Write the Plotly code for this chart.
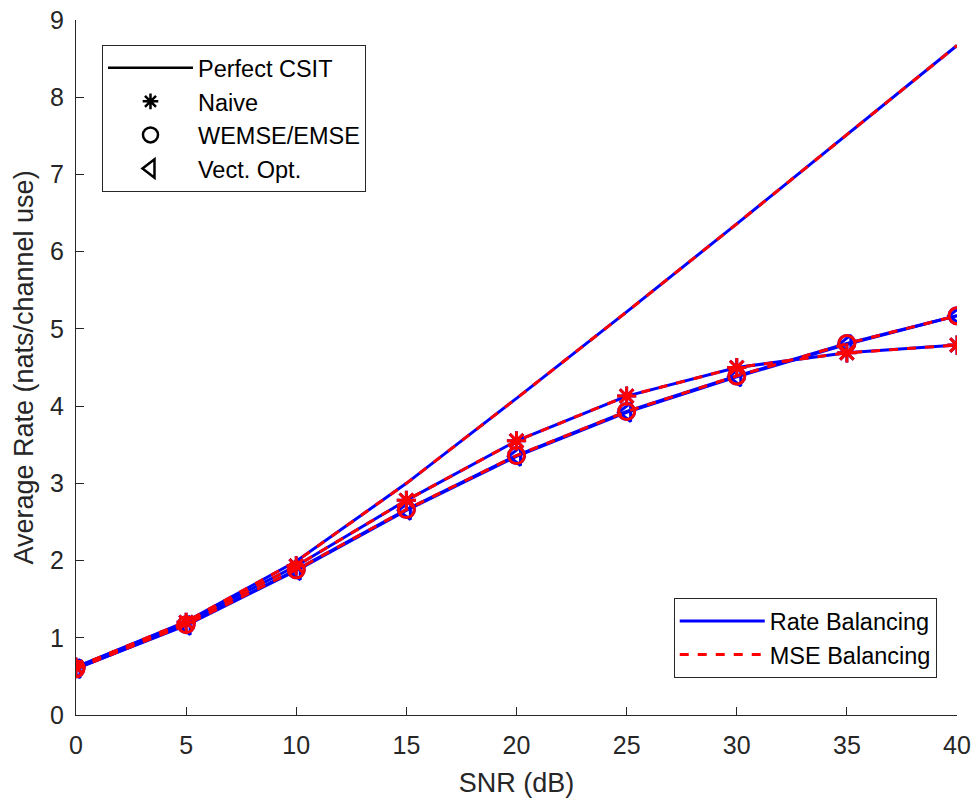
import plotly.graph_objects as go

snr = [0, 5, 10, 15, 20, 25, 30, 35, 40]
perfect_rate = [0.62, 1.21, 1.99, 3.00, 4.10, 5.22, 6.36, 7.51, 8.67]
perfect_mse = [0.62, 1.21, 1.99, 3.00, 4.10, 5.22, 6.36, 7.51, 8.67]
naive_rate = [0.62, 1.20, 1.93, 2.78, 3.55, 4.13, 4.50, 4.69, 4.79]
naive_mse = [0.62, 1.20, 1.93, 2.78, 3.55, 4.13, 4.50, 4.69, 4.79]
wemse_rate = [0.60, 1.17, 1.88, 2.66, 3.36, 3.93, 4.39, 4.81, 5.17]
wemse_mse = [0.60, 1.17, 1.88, 2.66, 3.36, 3.93, 4.39, 4.81, 5.17]
vect_rate = [0.60, 1.16, 1.87, 2.65, 3.35, 3.92, 4.38, 4.80, 5.17]

xticks = [0, 5, 10, 15, 20, 25, 30, 35, 40]
yticks = [0, 1, 2, 3, 4, 5, 6, 7, 8, 9]

BLUE = "#0000ff"
RED = "#ff0000"
AX = "#262626"
FONT = "Liberation Sans, Arial, sans-serif"

fig = go.Figure()

def add(y, color, dash, symbol=None, msize=16):
    mode = "lines+markers" if symbol else "lines"
    kw = {}
    if symbol:
        kw["marker"] = dict(symbol=symbol, size=msize, color=color,
                            line=dict(color=color, width=3))
    fig.add_trace(go.Scatter(x=snr, y=y, mode=mode,
                             line=dict(color=color, width=3, dash=dash),
                             showlegend=False, hoverinfo="skip", **kw))

# Rate balancing (blue solid)
add(perfect_rate, BLUE, "solid")
add(naive_rate, BLUE, "solid", "asterisk-open")
add(vect_rate, BLUE, "solid", "triangle-left-open", 16)
add(wemse_rate, BLUE, "solid", "circle-open")
# MSE balancing (red dashed)
add(perfect_mse, RED, "dash")
add(naive_mse, RED, "dash", "asterisk-open")
add(wemse_mse, RED, "dash", "circle-open")

# Legend 1 entries (black)
fig.add_trace(go.Scatter(x=[None], y=[None], mode="lines", name="Perfect CSIT",
                         line=dict(color="black", width=2.5), legend="legend"))
fig.add_trace(go.Scatter(x=[None], y=[None], mode="markers", name="Naive",
                         marker=dict(symbol="asterisk-open", size=13, color="black",
                                     line=dict(color="black", width=2.5)), legend="legend"))
fig.add_trace(go.Scatter(x=[None], y=[None], mode="markers", name="WEMSE/EMSE",
                         marker=dict(symbol="circle-open", size=15, color="black",
                                     line=dict(color="black", width=2.5)), legend="legend"))
fig.add_trace(go.Scatter(x=[None], y=[None], mode="markers", name="Vect. Opt.",
                         marker=dict(symbol="triangle-left-open", size=16, color="black",
                                     line=dict(color="black", width=2.5)), legend="legend"))
# Legend 2 entries
fig.add_trace(go.Scatter(x=[None], y=[None], mode="lines", name="Rate Balancing",
                         line=dict(color=BLUE, width=3), legend="legend2"))
fig.add_trace(go.Scatter(x=[None], y=[None], mode="lines", name="MSE Balancing",
                         line=dict(color=RED, width=3, dash="dash"), legend="legend2"))

axis_common = dict(showgrid=False, zeroline=False, showline=True, linecolor=AX,
                   linewidth=1, ticks="inside", ticklen=8, tickcolor=AX,
                   tickfont=dict(family=FONT, size=25, color=AX),
                   ticklabeloverflow="allow", automargin=False,
                   mirror=False)

W, H = 976, 803
fig.update_layout(
    width=W, height=H,
    margin=dict(l=76, r=19, t=20, b=88),
    paper_bgcolor="white", plot_bgcolor="white",
    font=dict(family=FONT, color=AX),
    xaxis=dict(range=[0, 40], tickvals=xticks, ticktext=[str(t) for t in xticks],
               ticklabelstandoff=8,
               title=dict(text="SNR (dB)", font=dict(family=FONT, size=27, color=AX), standoff=15),
               **axis_common),
    yaxis=dict(range=[0, 9], tickvals=yticks, ticktext=[str(t) for t in yticks],
               ticklabelstandoff=6,
               title=dict(text="Average Rate (nats/channel use)", font=dict(family=FONT, size=27, color=AX), standoff=8),
               **axis_common),
    legend=dict(x=0.0295, y=0.964, xanchor="left", yanchor="top",
                bgcolor="white", bordercolor=AX, borderwidth=1,
                font=dict(family=FONT, size=23.5, color="black"), itemwidth=85,
                tracegroupgap=0),
    legend2=dict(x=0.977, y=0.053, xanchor="right", yanchor="bottom",
                 bgcolor="white", bordercolor=AX, borderwidth=1,
                 font=dict(family=FONT, size=23.5, color="black"), itemwidth=85),
)

fig.write_html("out.html", config={"displayModeBar": False},
               post_script="document.body.style.margin='0';")
